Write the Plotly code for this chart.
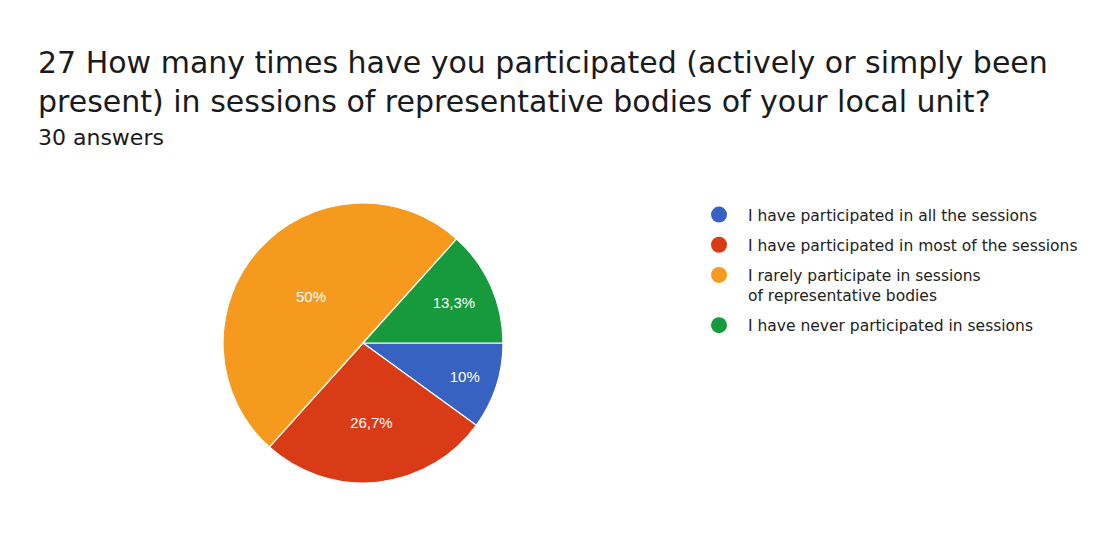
import plotly.graph_objects as go

categories = [
    "I have participated in all the sessions",
    "I have participated in most of the sessions",
    "I rarely participate in sessions<br>of representative bodies",
    "I have never participated in sessions",
]
answers = [3, 8, 15, 4]
pct_labels = ["10%", "26,7%", "50%", "13,3%"]
colors = ["#3762c2", "#d93b16", "#f59a1c", "#179a3b"]

title_line1 = "27 How many times have you participated (actively or simply been"
title_line2 = "present) in sessions of representative bodies of your local unit?"
subtitle = "30 answers"

FONT = "DejaVu Sans"

fig = go.Figure()
fig.add_trace(go.Pie(
    labels=categories,
    values=answers,
    text=pct_labels,
    texttemplate="%{text}",
    textposition="inside",
    insidetextorientation="horizontal",
    insidetextfont=dict(color="white", size=15, family="Liberation Sans, Arial"),
    marker=dict(colors=colors, line=dict(color="white", width=1.2)),
    sort=False,
    direction="clockwise",
    rotation=90,
    showlegend=False,
    domain=dict(x=[215/1101, 495/1101], y=[79/554, 359/554]),
    hoverinfo="label+text",
))

for i, (cat, col) in enumerate(zip(categories, colors)):
    fig.add_trace(go.Scatter(
        x=[None], y=[None], mode="markers", name=cat,
        legendgroup="g%d" % i,
        marker=dict(color=col, size=17, symbol="circle"),
        showlegend=True,
    ))

fig.update_layout(
    width=1101, height=554,
    margin=dict(l=0, r=0, t=0, b=0),
    paper_bgcolor="white", plot_bgcolor="white",
    xaxis=dict(visible=False), yaxis=dict(visible=False),
    legend=dict(
        x=682/1101, y=1-190/554, xanchor="left", yanchor="top",
        font=dict(family=FONT, size=15.5, color="#222222"),
        valign="top", tracegroupgap=7, itemsizing="trace", itemwidth=48,
        bgcolor="rgba(0,0,0,0)",
    ),
    annotations=[
        dict(text=title_line1 + "<br>" + title_line2, x=28/1101, y=1-35/554,
             xref="paper", yref="paper", xanchor="left", yanchor="top",
             showarrow=False, align="left",
             font=dict(family=FONT, size=30, color="#1a1a1a")),
        dict(text=subtitle, x=28/1101, y=1-129/554,
             xref="paper", yref="paper", xanchor="left", yanchor="middle",
             showarrow=False, align="left",
             font=dict(family=FONT, size=22, color="#1a1a1a")),
    ],
)

fig.write_html("out.html")
